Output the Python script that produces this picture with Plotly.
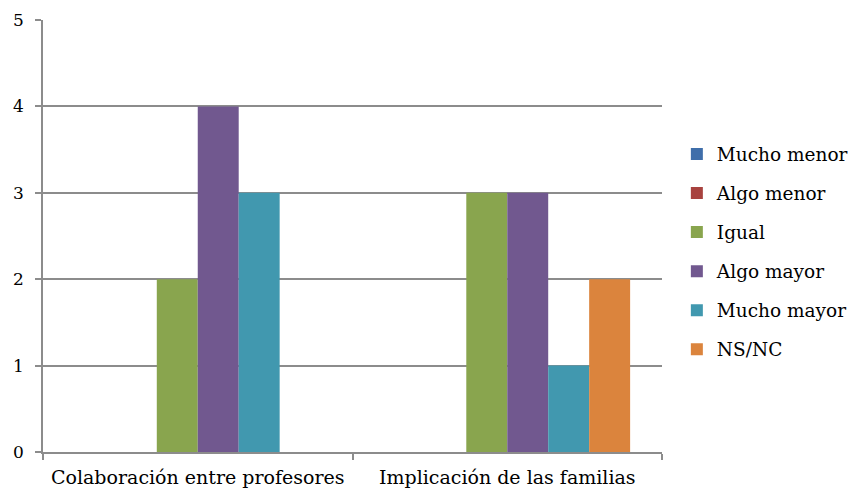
import plotly.graph_objects as go

categories = ["Colaboración entre profesores", "Implicación de las familias"]
series_names = ["Mucho menor", "Algo menor", "Igual", "Algo mayor", "Mucho mayor", "NS/NC"]
values = {
    "Mucho menor": [0, 0],
    "Algo menor": [0, 0],
    "Igual": [2, 3],
    "Algo mayor": [4, 3],
    "Mucho mayor": [3, 1],
    "NS/NC": [0, 2],
}
colors = ["#3F6EAA", "#A8423F", "#89A54E", "#71588F", "#4198AF", "#DB843D"]
y_ticks = [0, 1, 2, 3, 4, 5]

FONT = "DejaVu Serif"

fig = go.Figure()
for i, name in enumerate(series_names):
    fig.add_trace(go.Bar(
        x=categories, y=values[name], name=name,
        marker=dict(color=colors[i], line=dict(width=0)),
        legendgroup=name,
    ))

fig.update_layout(
    width=858, height=492,
    margin=dict(l=43, r=196, t=20, b=40, autoexpand=False),
    paper_bgcolor="white", plot_bgcolor="white",
    barmode="group", bargap=0.206, bargroupgap=0,
    font=dict(family=FONT, size=17, color="black"),
    legend=dict(
        x=1.024, xanchor="left", y=0.463, yanchor="middle",
        font=dict(family=FONT, size=18.5, color="black"),
        tracegroupgap=12, itemwidth=30,
        bgcolor="rgba(0,0,0,0)",
    ),
    xaxis=dict(
        showline=True, linecolor="#8C8C8C", linewidth=1.5,
        ticks="outside", tickson="boundaries", ticklen=6, tickcolor="#8C8C8C", tickwidth=1.5,
        tickfont=dict(family=FONT, size=19, color="black"),
        tickangle=0, ticklabelstandoff=7,
        showgrid=False,
    ),
    yaxis=dict(
        range=[0, 5], tickvals=y_ticks, ticktext=[str(v) for v in y_ticks],
        showline=True, linecolor="#8C8C8C", linewidth=1.5,
        ticks="outside", ticklen=6, tickcolor="#8C8C8C", tickwidth=1.5,
        showgrid=True, gridcolor="#8C8C8C", gridwidth=1.5,
        zeroline=False,
        tickfont=dict(family=FONT, size=17, color="black"),
        ticklabelstandoff=8,
    ),
)

fig.write_html("out.html")
